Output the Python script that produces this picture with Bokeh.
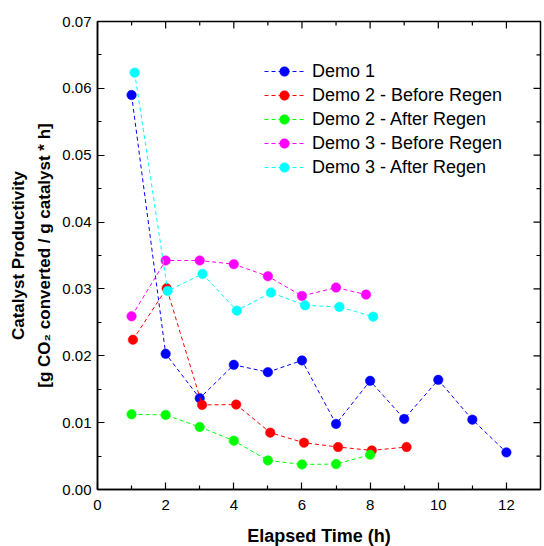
import math
from bokeh.plotting import figure
from bokeh.models import FixedTicker, Legend, LegendItem, Range1d, PrintfTickFormatter
from bokeh.embed import file_html
from bokeh.resources import INLINE

# ---- data ----
series_names = ["Demo 1", "Demo 2 - Before Regen", "Demo 2 - After Regen",
                "Demo 3 - Before Regen", "Demo 3 - After Regen"]
series_colors = ["#0000FF", "#FF0000", "#00FF00", "#FF00FF", "#00FFFF"]

demo1_x = [1, 2, 3, 4, 5, 6, 7, 8, 9, 10, 11, 12]
demo1_y = [0.0590, 0.0203, 0.01365, 0.01865, 0.01755, 0.0193, 0.0098, 0.01625,
           0.01055, 0.0164, 0.01045, 0.00555]

demo2_before_x = [1.04, 2.03, 3.07, 4.07, 5.07, 6.06, 7.06, 8.05, 9.07]
demo2_before_y = [0.0224, 0.0301, 0.01265, 0.0127, 0.0085, 0.0070, 0.00635,
                  0.00585, 0.00635]

demo2_after_x = [1, 2, 3, 4, 5, 6, 7, 8]
demo2_after_y = [0.01125, 0.01115, 0.00935, 0.0073, 0.00435, 0.00375, 0.0038, 0.0052]

demo3_before_x = [1, 2, 3, 4, 5, 6, 7, 7.88]
demo3_before_y = [0.0259, 0.03425, 0.03425, 0.0337, 0.0319, 0.02895, 0.0302, 0.02915]

demo3_after_x = [1.09, 2.06, 3.08, 4.09, 5.09, 6.09, 7.10, 8.09]
demo3_after_y = [0.06235, 0.0297, 0.03225, 0.02675, 0.02945, 0.02755, 0.0273, 0.02585]

x_major = [0, 2, 4, 6, 8, 10, 12]
x_minor = [1, 3, 5, 7, 9, 11]
y_major = [0.0, 0.01, 0.02, 0.03, 0.04, 0.05, 0.06, 0.07]
y_minor = [0.005, 0.015, 0.025, 0.035, 0.045, 0.055, 0.065]
x_start, x_end = 0, 13
y_start, y_end = 0.0, 0.07

FONT = "Liberation Sans"

p = figure(frame_width=443, frame_height=468,
           x_range=Range1d(x_start, x_end), y_range=Range1d(y_start, y_end),
           output_backend="svg", toolbar_location=None,
           min_border_left=97, min_border_right=2, min_border_top=21,
           min_border_bottom=53)
p.grid.visible = False
p.outline_line_color = "black"
p.outline_line_width = 1.5
p.background_fill_color = "white"
p.border_fill_color = "white"


def style_axis(ax):
    ax.axis_line_color = "black"
    ax.axis_line_width = 1.5
    ax.major_tick_in = 7
    ax.major_tick_out = 0
    ax.minor_tick_in = 4
    ax.minor_tick_out = 0
    ax.major_tick_line_color = "black"
    ax.minor_tick_line_color = "black"
    ax.major_tick_line_width = 1.2
    ax.minor_tick_line_width = 1.2
    ax.major_label_text_font = FONT
    ax.major_label_text_font_size = "15px"
    ax.major_label_text_color = "black"


xa = p.xaxis[0]
xa.ticker = FixedTicker(ticks=x_major, minor_ticks=x_minor)
style_axis(xa)
xa.major_label_standoff = 10
xa.axis_label = "Elapsed Time (h)"
xa.axis_label_text_font = FONT
xa.axis_label_text_font_style = "bold"
xa.axis_label_text_font_size = "18px"
xa.axis_label_text_color = "black"
xa.axis_label_standoff = 13

ya = p.yaxis[0]
ya.ticker = FixedTicker(ticks=y_major, minor_ticks=y_minor)
ya.formatter = PrintfTickFormatter(format="%.2f")
style_axis(ya)
ya.major_label_standoff = 6
ya.axis_label = "Catalyst Productivity\n[g CO\u2082 converted / g catalyst * h]"
ya.axis_label_text_font = FONT
ya.axis_label_text_font_style = "bold"
ya.axis_label_text_font_size = "17px"
ya.axis_label_text_line_height = 1.4
ya.axis_label_text_color = "black"
ya.axis_label_standoff = 5

# inward ticks on the top and right frame edges
p.ray(x=x_major, y=[y_end] * len(x_major), length=7, length_units="screen",
      angle=-math.pi / 2, line_color="black", line_width=1.2)
p.ray(x=x_minor, y=[y_end] * len(x_minor), length=4, length_units="screen",
      angle=-math.pi / 2, line_color="black", line_width=1.2)
p.ray(x=[x_end] * len(y_major), y=y_major, length=7, length_units="screen",
      angle=math.pi, line_color="black", line_width=1.2)
p.ray(x=[x_end] * len(y_minor), y=y_minor, length=4, length_units="screen",
      angle=math.pi, line_color="black", line_width=1.2)

all_x = [demo1_x, demo2_before_x, demo2_after_x, demo3_before_x, demo3_after_x]
all_y = [demo1_y, demo2_before_y, demo2_after_y, demo3_before_y, demo3_after_y]

items = []
for name, color, xs, ys in zip(series_names, series_colors, all_x, all_y):
    lr = p.line(xs, ys, line_color=color, line_width=1, line_dash="4 3")
    sr = p.scatter(xs, ys, marker="circle", size=9.5, fill_color=color,
                   line_color=color, line_width=0.5)
    items.append(LegendItem(label=name, renderers=[lr, sr]))

legend = Legend(items=items, location=(167, 310))
legend.padding = 0
legend.margin = 0
legend.spacing = 0
legend.glyph_width = 40
legend.glyph_height = 24
legend.label_height = 24
legend.label_standoff = 8
legend.label_text_font = FONT
legend.label_text_font_size = "18px"
legend.label_text_color = "black"
legend.border_line_color = None
legend.background_fill_alpha = 0
p.add_layout(legend)

open("out.html", "w").write(file_html(p, INLINE))
